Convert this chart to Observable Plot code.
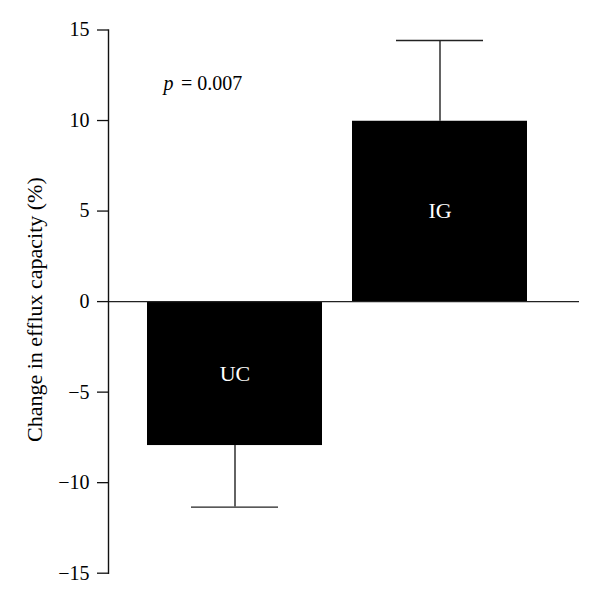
<!DOCTYPE html>
<html>
<head>
<meta charset="utf-8">
<script src="https://cdn.jsdelivr.net/npm/d3@7"></script>
<script src="https://cdn.jsdelivr.net/npm/@observablehq/plot@0.6"></script>
<style>
  html, body { margin: 0; padding: 0; background: #fff; }
</style>
</head>
<body>
<div id="chart"></div>
<script>
const groups = ["UC", "IG"];
const means = [-7.95, 9.96];
const errors = [3.4, 4.46];
const yTicks = [-15, -10, -5, 0, 5, 10, 15];
const yLabel = "Change in efflux capacity (%)";
const pLabel = "p";
const pValue = "= 0.007";

const rows = groups.map((g, i) => ({
  group: g,
  mean: means[i],
  errEnd: means[i] < 0 ? means[i] - errors[i] : means[i] + errors[i]
}));

const font = "'Liberation Serif', 'DejaVu Serif', serif";

const chart = Plot.plot({
  width: 600,
  height: 599,
  marginLeft: 108,
  marginRight: 21,
  marginTop: 29.5,
  marginBottom: 26.3,
  style: { fontFamily: font, color: "#000", background: "#fff" },
  x: { type: "band", domain: groups, range: [147, 528], paddingInner: 0.146, paddingOuter: 0, axis: null },
  y: { domain: [-15, 15], ticks: yTicks },
  marks: [
    Plot.barY(rows, { x: "group", y: "mean", fill: "#000" }),
    Plot.ruleX(rows, { x: "group", y1: "mean", y2: "errEnd", stroke: "#222", strokeWidth: 1.4 }),
    Plot.tickY(rows, { x: "group", y: "errEnd", stroke: "#222", strokeWidth: 1.4, insetLeft: 44, insetRight: 44 }),
    Plot.ruleY([0], { stroke: "#222", strokeWidth: 1.3 }),
    Plot.frame({ anchor: "left", stroke: "#111", strokeWidth: 1.4 }),
    Plot.axisY({ ticks: yTicks, tickSize: 11, tickPadding: 8, fontSize: 20, stroke: "#111", strokeWidth: 1.3, label: null }),
    Plot.text(rows, { x: "group", y: d => d.mean / 2, text: "group", fill: "#fff", fontSize: 22 }),
    Plot.text([yLabel], { frameAnchor: "left", textAnchor: "middle", lineAnchor: "middle", rotate: -90, dx: -73.5, dy: 8, fontSize: 22, fill: "#000" }),
    Plot.text([pLabel], { frameAnchor: "top-left", textAnchor: "start", lineAnchor: "bottom", dx: 55, dy: 60, fontSize: 20, fontStyle: "italic", fill: "#000" }),
    Plot.text([pValue], { frameAnchor: "top-left", textAnchor: "start", lineAnchor: "bottom", dx: 72.5, dy: 60, fontSize: 20, fill: "#000" })
  ]
});
document.getElementById("chart").appendChild(chart);
</script>
</body>
</html>
